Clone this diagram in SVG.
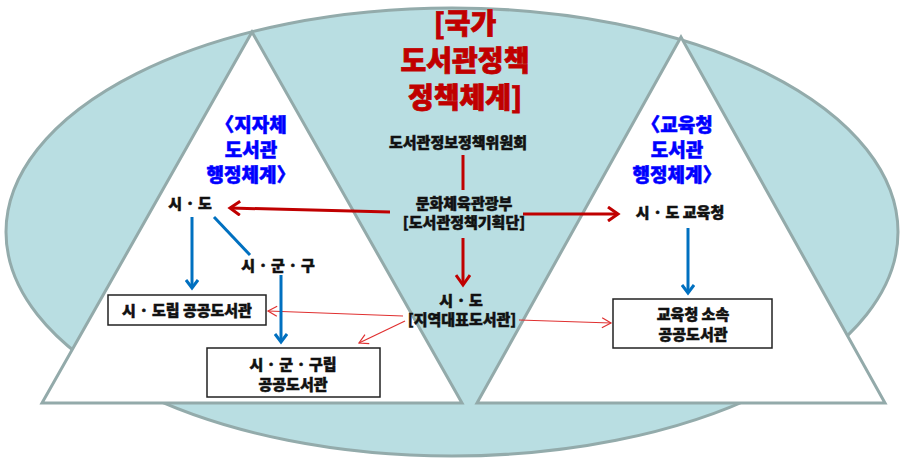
<svg xmlns="http://www.w3.org/2000/svg" width="900" height="461" viewBox="0 0 900 461">
<defs>
<style>
text{font-family:"Noto Sans CJK KR","Noto Sans",sans-serif;font-weight:bold;text-anchor:middle}
.title{font-size:28px;fill:#C00000;stroke:#C00000;stroke-width:0.8;font-weight:900}
.sub{font-size:19px;fill:#0000FF;stroke:#0000FF;stroke-width:0.5;font-weight:900}
.lbl{font-size:15px;fill:#111;stroke:#111;stroke-width:0.5;font-weight:900}
.box{fill:#fff;stroke:#222;stroke-width:1.5}
.tri{fill:#fff;stroke:#93AAAA;stroke-width:3;stroke-linejoin:miter}
.rk{stroke:#C00000;stroke-width:3;fill:none}
.rt{stroke:#E03030;stroke-width:1.2;fill:none}
.bl{stroke:#0070C0;stroke-width:3;fill:none}
</style>
<marker id="ar" markerUnits="userSpaceOnUse" markerWidth="16" markerHeight="16" refX="12" refY="8" orient="auto">
<path d="M2,1 L12,8 L2,15" fill="none" stroke="#C00000" stroke-width="3"/>
</marker>
<marker id="ab" markerUnits="userSpaceOnUse" markerWidth="14" markerHeight="14" refX="10" refY="7" orient="auto">
<path d="M2,1 L10,7 L2,13" fill="none" stroke="#0070C0" stroke-width="3"/>
</marker>
<marker id="at" markerUnits="userSpaceOnUse" markerWidth="12" markerHeight="12" refX="10" refY="6" orient="auto">
<path d="M1,1 L10,6 L1,11" fill="none" stroke="#E03030" stroke-width="1.2"/>
</marker>
</defs>
<g id="background">
<ellipse cx="452" cy="232" rx="446" ry="224" fill="#B9DEE2" stroke="#93ABAB" stroke-width="3"/>
<polygon class="tri" points="252,32 42,403 462,403"/>
<polygon class="tri" points="681,37 477,403 885,403"/>
</g>
<g id="title">
<text class="title" x="465" y="34">[국가</text>
<text class="title" x="465" y="71">도서관정책</text>
<text class="title" x="465" y="108">정책체계]</text>
</g>
<g id="local-title">
<text class="sub" x="251" y="132">〈지자체</text>
<text class="sub" x="251" y="157">도서관</text>
<text class="sub" x="251" y="182">행정체계〉</text>
</g>
<g id="edu-title">
<text class="sub" x="677" y="132">〈교육청</text>
<text class="sub" x="677" y="157">도서관</text>
<text class="sub" x="677" y="182">행정체계〉</text>
</g>
<g id="connectors">
<line class="rk" x1="463" y1="155" x2="463" y2="190"/>
<line class="rk" x1="390" y1="212" x2="230" y2="208" marker-end="url(#ar)"/>
<line class="rk" x1="523" y1="214" x2="618" y2="214" marker-end="url(#ar)"/>
<line class="rk" x1="463" y1="238" x2="463" y2="285" marker-end="url(#ar)"/>
<line class="rt" x1="403" y1="316" x2="268" y2="311" marker-end="url(#at)"/>
<line class="rt" x1="405" y1="321" x2="359" y2="343" marker-end="url(#at)"/>
<line class="rt" x1="519" y1="320" x2="611" y2="323" marker-end="url(#at)"/>
<line class="bl" x1="192" y1="217" x2="192" y2="288" marker-end="url(#ab)"/>
<line class="bl" x1="214" y1="217" x2="250" y2="255"/>
<line class="bl" x1="281" y1="275" x2="281" y2="342" marker-end="url(#ab)"/>
<line class="bl" x1="688" y1="228" x2="688" y2="293" marker-end="url(#ab)"/>
</g>
<g id="committee"><text class="lbl" x="458" y="148">도서관정보정책위원회</text></g>
<g id="ministry">
<text class="lbl" x="464" y="209">문화체육관광부</text>
<text class="lbl" x="464" y="228">[도서관정책기획단]</text>
</g>
<g id="sido-left"><text class="lbl" x="190" y="209">시 · 도</text></g>
<g id="sigungu"><text class="lbl" x="278" y="271">시 · 군 · 구</text></g>
<g id="sido-center">
<text class="lbl" x="461" y="306">시 · 도</text>
<text class="lbl" x="462" y="325">[지역대표도서관]</text>
</g>
<g id="sido-edu"><text class="lbl" x="680" y="218">시 · 도 교육청</text></g>
<g id="sido-library">
<rect class="box" x="108" y="295" width="158" height="30"/>
<text class="lbl" x="187" y="316">시 · 도립 공공도서관</text>
</g>
<g id="sigungu-library">
<rect class="box" x="207" y="348" width="173" height="49"/>
<text class="lbl" x="293" y="370">시 · 군 · 구립</text>
<text class="lbl" x="293" y="390">공공도서관</text>
</g>
<g id="edu-library">
<rect class="box" x="613" y="299" width="159" height="49"/>
<text class="lbl" x="693" y="320">교육청 소속</text>
<text class="lbl" x="693" y="340">공공도서관</text>
</g>
</svg>
